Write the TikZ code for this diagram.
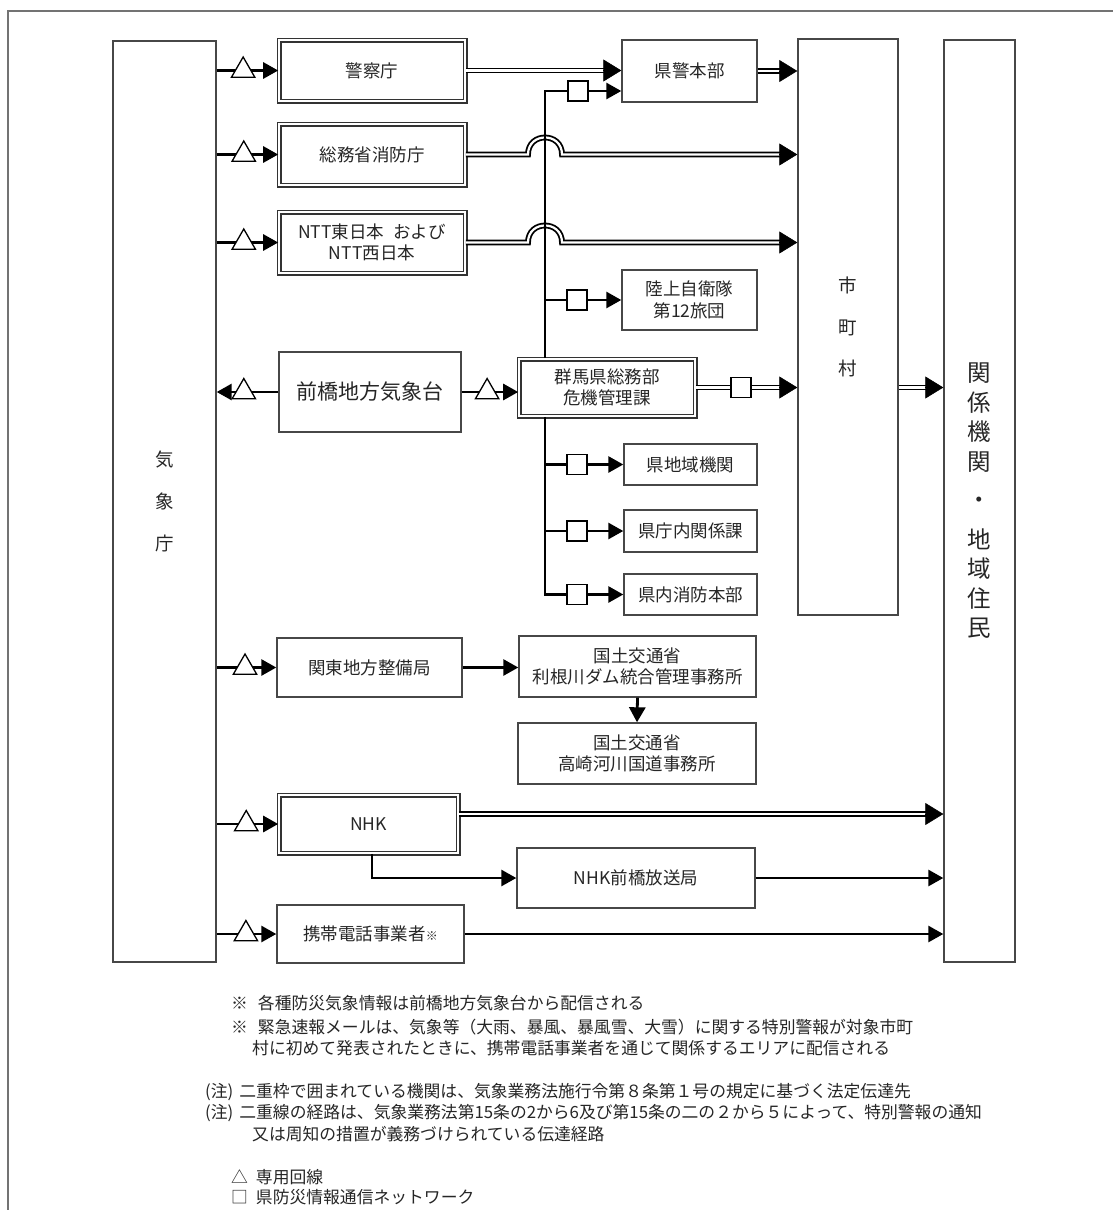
\documentclass[tikz,border=0pt]{standalone}
\usepackage{fontspec}
\setmainfont{Noto Sans CJK JP}
\usetikzlibrary{arrows.meta,shapes.geometric,calc}
\begin{document}
\begin{tikzpicture}[x=1pt,y=-1pt,
  box/.style={draw=black!72, line width=1.4pt, fill=white, text=black!85, inner sep=0pt, align=center, font=\fontsize{17.5pt}{21.5pt}\selectfont},
  dbox/.style={box, draw=black!80, double, double distance=1.8pt, line width=1.6pt},
  ln/.style={line width=2.8pt},
  arr/.style={ln, -{Triangle[length=15pt,width=16pt]}},
  dl/.style={double, double distance=2.2pt, line width=1.8pt, shorten >=14pt},
  dtip/.style={line width=0.5pt, -{Triangle[length=18pt,width=22pt]}},
  tri/.style={regular polygon, regular polygon sides=3, draw, line width=1.3pt, fill=white, minimum size=27pt, inner sep=0pt},
  sq/.style={draw, line width=1.3pt, fill=white, minimum size=20pt, inner sep=0pt},
  fn/.style={anchor=west, inner sep=0pt, text=black!85, font=\fontsize{16.8pt}{20pt}\selectfont},
]
\fill[white] (0,0) rectangle (1113,1210);
\useasboundingbox (0,0) rectangle (1113,1210);
\draw[black!55, line width=2pt] (8,1210) -- (8,11) -- (1113,11);

% ---------- boxes ----------
\node[box, minimum width=103pt, minimum height=921pt, font=\fontsize{18.5pt}{42pt}\selectfont] (kisho) at (164.5,501.5) {気\\象\\庁};
\node[dbox, minimum width=186pt, minimum height=61pt] (keisatsu) at (372,70.5) {警察庁};
\node[dbox, minimum width=186pt, minimum height=61pt] (shobo) at (372,154.5) {総務省消防庁};
\node[dbox, minimum width=186pt, minimum height=61pt] (ntt) at (372,242.5) {NTT東日本\hspace{0.5em}および\\NTT西日本};
\node[box, minimum width=135pt, minimum height=62pt] (kenkei) at (689.5,71) {県警本部};
\node[box, minimum width=135pt, minimum height=60pt] (rikujo) at (689.5,300) {陸上自衛隊\\第12旅団};
\node[box, minimum width=182pt, minimum height=80pt, font=\fontsize{21pt}{25pt}\selectfont] (maebashi) at (370,392) {前橋地方気象台};
\node[dbox, minimum width=176pt, minimum height=57pt] (gunma) at (607,387.5) {群馬県総務部\\危機管理課};
\node[box, minimum width=133pt, minimum height=41pt] (chiiki) at (690.5,464.5) {県地域機関};
\node[box, minimum width=133pt, minimum height=42pt] (chonai) at (690.5,531) {県庁内関係課};
\node[box, minimum width=133pt, minimum height=41pt] (shoboh) at (690.5,594.5) {県内消防本部};
\node[box, minimum width=100pt, minimum height=576pt, font=\fontsize{18.5pt}{41.5pt}\selectfont] (shicho) at (848,327) {市\\町\\村};
\node[box, minimum width=71pt, minimum height=922pt, font=\fontsize{23.5pt}{29.5pt}\selectfont] (kankei) at (979.5,501) {関\\係\\機\\関\\[9pt]・\\[10pt]地\\域\\住\\民};
\node[box, minimum width=185pt, minimum height=59pt] (kanto) at (369.5,667.5) {関東地方整備局};
\node[box, minimum width=237pt, minimum height=61pt] (tone) at (637.5,666.5) {国土交通省\\利根川ダム統合管理事務所};
\node[box, minimum width=238pt, minimum height=61pt] (takasaki) at (637,753.5) {国土交通省\\高崎河川国道事務所};
\node[dbox, minimum width=179pt, minimum height=58pt] (nhk) at (368.5,824) {NHK};
\node[box, minimum width=238pt, minimum height=60pt] (nhkm) at (636,878) {NHK前橋放送局};
\node[box, minimum width=187pt, minimum height=58pt] (keitai) at (370.5,934) {携帯電話事業者{\fontsize{12pt}{12pt}\selectfont ※}};

% ---------- end coordinates ----------
\coordinate (e1) at (kenkei.west |- keisatsu.east);
\coordinate (e2) at (shicho.west |- shobo.east);
\coordinate (e3) at (shicho.west |- ntt.east);
\coordinate (e4) at (shicho.west |- kenkei.east);
\coordinate (e5) at (shicho.west |- gunma.east);
\coordinate (e6) at (kankei.west |- gunma.east);
\coordinate (n1) at (nhk.east |- 0,814);
\coordinate (e7) at (kankei.west |- 0,814);
\coordinate (tk) at (545,91);

% ---------- double-line connectors ----------
\draw[dl] (keisatsu.east) -- (e1);
\draw[dtip] ([xshift=-18pt]e1) -- (e1);
\draw[dl] (shobo.east) -- (528,154.5) .. controls (528,131.8) and (562,131.8) .. (562,154.5) -- (e2);
\draw[dtip] ([xshift=-18pt]e2) -- (e2);
\draw[dl] (ntt.east) -- (528,242.5) .. controls (528,219.8) and (562,219.8) .. (562,242.5) -- (e3);
\draw[dtip] ([xshift=-18pt]e3) -- (e3);
\draw[dl] (kenkei.east) -- (e4);
\draw[dtip] ([xshift=-18pt]e4) -- (e4);
\draw[dl] (gunma.east) -- (e5);
\draw[dtip] ([xshift=-18pt]e5) -- (e5);
\draw[dl] (shicho.east |- gunma.east) -- (e6);
\draw[dtip] ([xshift=-18pt]e6) -- (e6);
\draw[dl] (n1) -- (e7);
\draw[dtip] ([xshift=-18pt]e7) -- (e7);

% ---------- trunk from 群馬県 ----------
\draw[arr] (gunma.north -| tk) -- (tk) -- (kenkei.west |- tk);
\draw[arr] (gunma.south -| tk) |- (shoboh.west);
\draw[arr] (tk |- rikujo.west) -- (rikujo.west);
\draw[arr] (tk |- chiiki.west) -- (chiiki.west);
\draw[arr] (tk |- chonai.west) -- (chonai.west);

% ---------- single connectors ----------
\draw[arr] (kisho.east |- keisatsu.west) -- node[tri, pos=0.43] (t1) {} (keisatsu.west);
\draw[arr] (kisho.east |- shobo.west) -- node[tri, pos=0.44] (t2) {} (shobo.west);
\draw[arr] (kisho.east |- ntt.west) -- node[tri, pos=0.44] (t3) {} (ntt.west);
\draw[arr] (maebashi.west) -- node[tri, pos=0.56] (t4) {} (kisho.east |- maebashi.west);
\draw[arr] (maebashi.east) -- node[tri, pos=0.45] (t5) {} (gunma.west |- maebashi.east);
\draw[arr] (kisho.east |- kanto.west) -- node[tri, pos=0.475] (t6) {} (kanto.west);
\draw[arr] (kisho.east |- nhk.west) -- node[tri, pos=0.48] (t7) {} (nhk.west);
\draw[arr] (kisho.east |- keitai.west) -- node[tri, pos=0.49] (t8) {} (keitai.west);
\draw[arr] (kanto.east) -- (tone.west |- kanto.east);
\draw[arr] (tone.south) -- (takasaki.north);
\draw[arr] (nhk.south -| 372,0) |- (nhkm.west);
\draw[arr] (nhkm.east) -- (kankei.west |- nhkm.east);
\draw[arr] (keitai.east) -- (kankei.west |- keitai.east);

% ---------- squares ----------
\node[sq] (s1) at (578,91) {};
\node[sq] (s2) at (577,300) {};
\node[sq] (s3) at (741,387.5) {};
\node[sq] (s4) at (577,464.5) {};
\node[sq] (s5) at (577,531) {};
\node[sq] (s6) at (577,594.5) {};

% ---------- footnotes ----------
\node[fn] (f1) at (231,1003) {※\hspace{10pt}各種防災気象情報は前橋地方気象台から配信される};
\node[fn] (f2) at (231,1027) {※\hspace{10pt}緊急速報メールは、気象等（大雨、暴風、暴風雪、大雪）に関する特別警報が対象市町};
\node[fn] (f3) at (252,1048) {村に初めて発表されたときに、携帯電話事業者を通じて関係するエリアに配信される};
\node[fn] (f4) at (205,1092) {(注)\hspace{6pt}二重枠で囲まれている機関は、気象業務法施行令第８条第１号の規定に基づく法定伝達先};
\node[fn] (f5) at (205,1113) {(注)\hspace{6pt}二重線の経路は、気象業務法第15条の2から6及び第15条の二の２から５によって、特別警報の通知};
\node[fn] (f6) at (252,1134) {又は周知の措置が義務づけられている伝達経路};
\node[fn] (f7) at (231,1177) {△\hspace{8pt}専用回線};
\node[fn] (f8) at (231,1197) {□\hspace{8pt}県防災情報通信ネットワーク};
\end{tikzpicture}
\end{document}
